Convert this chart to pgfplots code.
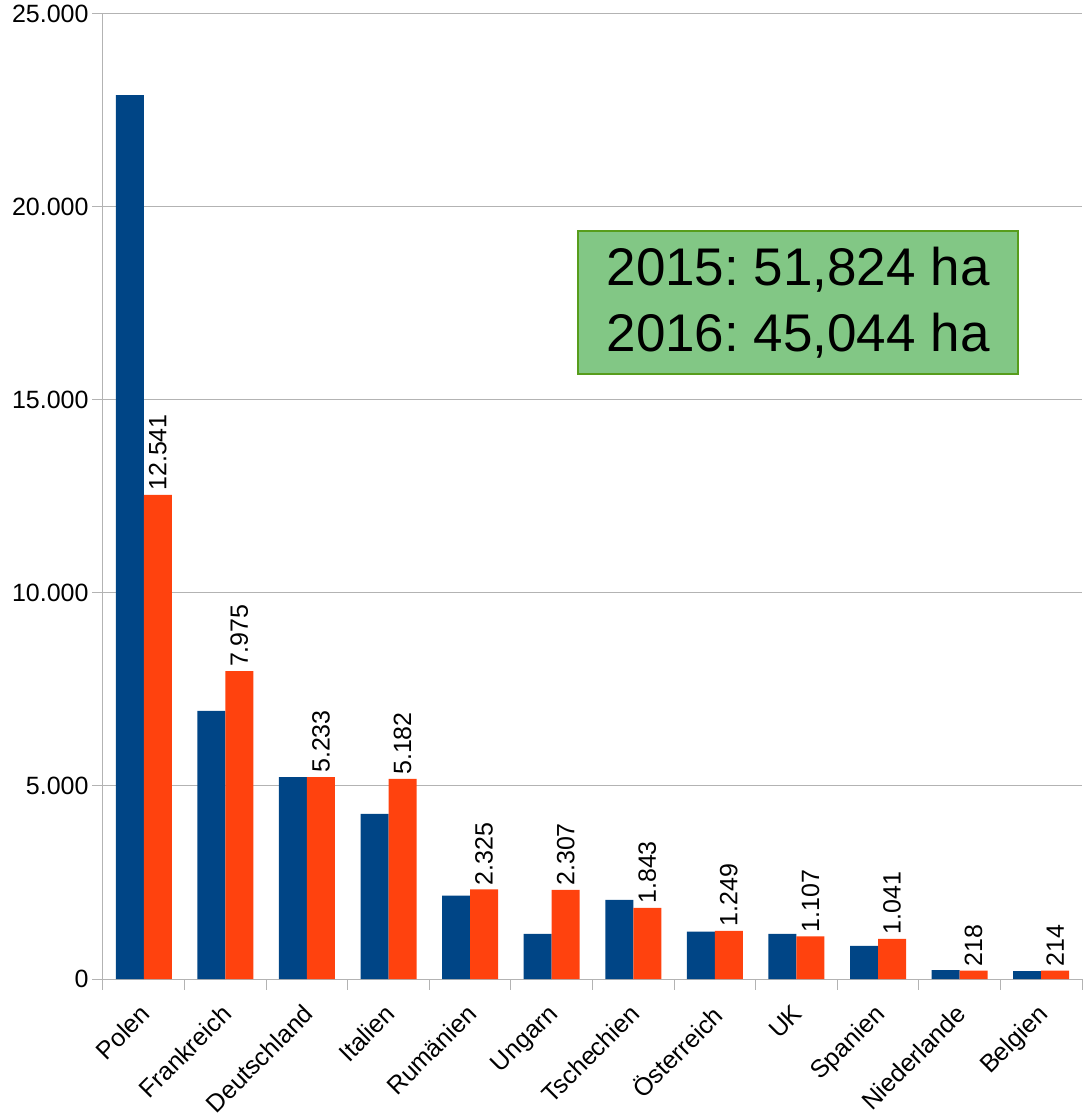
\documentclass[border=0pt]{standalone}
\usepackage{pgfplots}
\pgfplotsset{compat=1.18}
\usepackage{fontspec}
\setmainfont{Liberation Sans}
\frenchspacing
\definecolor{blue15}{HTML}{004586}
\definecolor{orange16}{HTML}{FF420E}
\definecolor{gridgray}{HTML}{B3B3B3}
\definecolor{boxfill}{HTML}{82C785}
\definecolor{boxdraw}{HTML}{579D1C}
\begin{document}
\begin{tikzpicture}
\begin{axis}[
  at={(103pt,140pt)}, anchor=south west,
  scale only axis, width=979pt, height=965pt,
  ybar=0pt, bar width=28pt,
  xmin=-0.5, xmax=11.5, ymin=0, ymax=25000,
  axis x line=bottom, axis y line=left,
  axis line style={draw=gridgray, line width=1pt, -},
  ytick={0,5000,10000,15000,20000,25000},
  ymajorgrids, grid style={draw=gridgray, line width=1pt},
  xtick={0,...,11},
  xticklabels={Polen,Frankreich,Deutschland,Italien,Rumänien,Ungarn,Tschechien,Österreich,UK,Spanien,Niederlande,Belgien},
  minor xtick={-0.5,0.5,...,11.5},
  major x tick style={draw=none},
  minor x tick style={draw=gridgray, line width=1pt},
  y tick style={draw=gridgray, line width=1pt},
  tick align=outside, major tick length=11pt, minor tick length=11pt,
  tick label style={font=\fontsize{25}{30}\selectfont},
  xticklabel style={xshift=-5pt, yshift=-10pt, rotate=45, anchor=north east, inner sep=2pt},
  /pgf/number format/assume math mode=true,
  /pgf/number format/1000 sep={.},
  scaled y ticks=false,
  clip=false,
]
\addplot[fill=blue15, draw=none] coordinates {
 (0,22900) (1,6943) (2,5233) (3,4275) (4,2158) (5,1166)
 (6,2047) (7,1225) (8,1166) (9,855) (10,233) (11,207)};
\addplot[fill=orange16, draw=none,
  nodes near coords,
  every node near coord/.append style={rotate=90, anchor=west, font=\fontsize{25}{30}\selectfont, black, inner sep=4pt, /pgf/number format/assume math mode=true}
  ] coordinates {
 (0,12541) (1,7975) (2,5233) (3,5182) (4,2325) (5,2307)
 (6,1843) (7,1249) (8,1107) (9,1041) (10,218) (11,214)};
\node[draw=boxdraw, line width=2.5pt, fill=boxfill, minimum width=440pt, minimum height=143pt,
  align=left, font=\fontsize{53}{66}\selectfont] at (rel axis cs:0.710,0.701)
  {2015: 51,824 ha\\2016: 45,044 ha};
\end{axis}
\pgfresetboundingbox
\path[use as bounding box] (0,0) rectangle (1082pt,1119pt);
\end{tikzpicture}
\end{document}
